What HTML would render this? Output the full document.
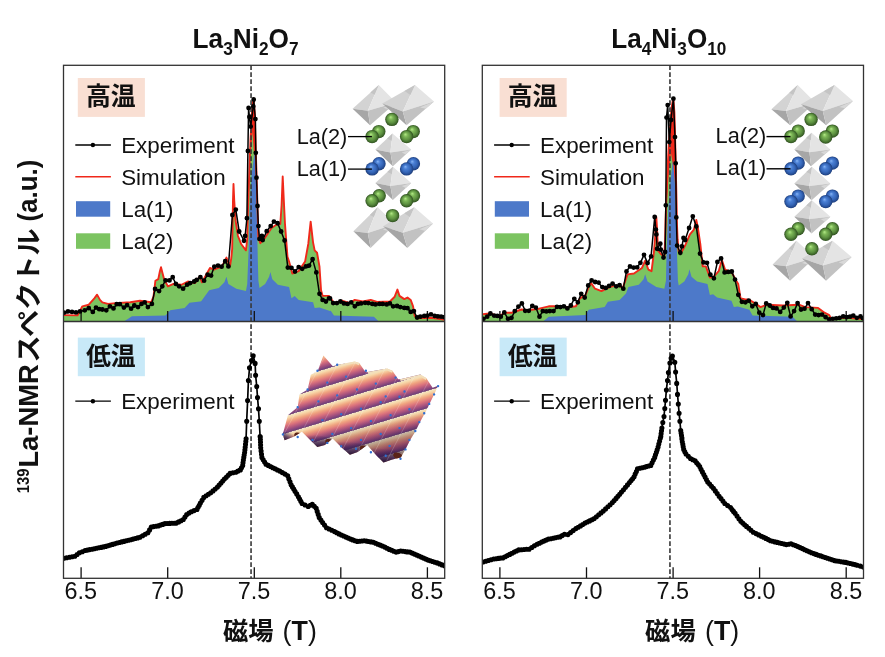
<!DOCTYPE html>
<html lang="ja"><head><meta charset="utf-8"><title>La-NMR</title>
<style>html,body{margin:0;padding:0;background:#fff}body{width:885px;height:657px;overflow:hidden}</style>
</head><body>
<svg width="885" height="657" viewBox="0 0 885 657" style="display:block;font-family:'Liberation Sans', 'Noto Sans CJK JP', sans-serif">
<defs>
<clipPath id="c63"><rect x="63.5" y="65.3" width="381.2" height="256.2"/></clipPath>
<clipPath id="c482"><rect x="482.3" y="65.3" width="381.2" height="256.2"/></clipPath>
<clipPath id="cb63"><rect x="63.5" y="321.5" width="381.2" height="256.79999999999995"/></clipPath>
<clipPath id="cb482"><rect x="482.3" y="321.5" width="381.2" height="256.79999999999995"/></clipPath>
<radialGradient id="gs" cx="0.5" cy="0.5" r="0.5" fx="0.4" fy="0.32"><stop offset="0" stop-color="#b4ea88"/><stop offset="0.3" stop-color="#7cb656"/><stop offset="0.65" stop-color="#5c9040"/><stop offset="0.9" stop-color="#3c6428"/><stop offset="1" stop-color="#2c4a1e"/></radialGradient>
<radialGradient id="bs" cx="0.5" cy="0.5" r="0.5" fx="0.4" fy="0.32"><stop offset="0" stop-color="#86b4f4"/><stop offset="0.3" stop-color="#4a7fd4"/><stop offset="0.65" stop-color="#3566b8"/><stop offset="0.9" stop-color="#244a90"/><stop offset="1" stop-color="#1a3870"/></radialGradient>
</defs>
<rect width="885" height="657" fill="#fff"/>
<g id="crystalL">
<polygon points="352.6,108.8 378.8,84.9 367.8,110.8" fill="#d3d3d3"/>
<polygon points="378.8,84.9 396.0,102.4 367.8,110.8" fill="#e4e4e4"/>
<polygon points="352.6,108.8 367.8,110.8 370.1,125.2" fill="#a6a6a6"/>
<polygon points="367.8,110.8 396.0,102.4 370.1,125.2" fill="#c2c2c2"/>
<polygon points="370.4,92.5 378.8,84.9 374.6,94.7" fill="#c4c4c4"/>
<polygon points="396.0,102.4 383.3,107.7 388.2,109.2" fill="#d8d8d8"/>
<polygon points="382.3,103.6 415.0,84.9 402.8,111.5" fill="#d3d3d3"/>
<polygon points="415.0,84.9 434.0,101.6 402.8,111.5" fill="#e4e4e4"/>
<polygon points="382.3,103.6 402.8,111.5 406.6,125.2" fill="#a6a6a6"/>
<polygon points="402.8,111.5 434.0,101.6 406.6,125.2" fill="#c2c2c2"/>
<polygon points="404.5,90.9 415.0,84.9 410.4,95.0" fill="#c4c4c4"/>
<polygon points="434.0,101.6 420.0,107.6 425.8,108.7" fill="#d8d8d8"/>
<polygon points="375.4,149.6 392.5,133.6 390.4,152.4" fill="#d3d3d3"/>
<polygon points="392.5,133.6 411.2,149.6 390.4,152.4" fill="#e4e4e4"/>
<polygon points="375.4,149.6 390.4,152.4 392.9,166.3" fill="#a6a6a6"/>
<polygon points="390.4,152.4 411.2,149.6 392.9,166.3" fill="#c2c2c2"/>
<polygon points="387.0,138.7 392.5,133.6 391.7,140.7" fill="#c4c4c4"/>
<polygon points="411.2,149.6 401.8,152.4 405.7,154.6" fill="#d8d8d8"/>
<polygon points="375.4,183.1 392.9,166.8 390.4,185.9" fill="#d3d3d3"/>
<polygon points="392.9,166.8 411.2,183.1 390.4,185.9" fill="#e4e4e4"/>
<polygon points="375.4,183.1 390.4,185.9 392.9,199.9" fill="#a6a6a6"/>
<polygon points="390.4,185.9 411.2,183.1 392.9,199.9" fill="#c2c2c2"/>
<polygon points="387.3,172.0 392.9,166.8 391.9,174.1" fill="#c4c4c4"/>
<polygon points="411.2,183.1 401.8,185.9 405.7,188.1" fill="#d8d8d8"/>
<polygon points="353.4,231.2 377.7,207.2 367.8,233.1" fill="#d3d3d3"/>
<polygon points="377.7,207.2 395.2,223.9 367.8,233.1" fill="#e4e4e4"/>
<polygon points="353.4,231.2 367.8,233.1 370.6,248.0" fill="#a6a6a6"/>
<polygon points="367.8,233.1 395.2,223.9 370.6,248.0" fill="#c2c2c2"/>
<polygon points="369.9,214.9 377.7,207.2 373.9,217.0" fill="#c4c4c4"/>
<polygon points="395.2,223.9 382.9,229.5 387.8,231.1" fill="#d8d8d8"/>
<polygon points="383.1,226.2 414.3,207.2 402.8,232.8" fill="#d3d3d3"/>
<polygon points="414.3,207.2 433.0,223.6 402.8,232.8" fill="#e4e4e4"/>
<polygon points="383.1,226.2 402.8,232.8 407.4,248.0" fill="#a6a6a6"/>
<polygon points="402.8,232.8 433.0,223.6 407.4,248.0" fill="#c2c2c2"/>
<polygon points="404.3,213.3 414.3,207.2 409.9,216.9" fill="#c4c4c4"/>
<polygon points="433.0,223.6 419.4,229.2 425.3,230.9" fill="#d8d8d8"/>
<circle cx="391.9" cy="119.4" r="6.7" fill="url(#gs)"/>
<circle cx="378.8" cy="131.6" r="6.7" fill="url(#gs)"/>
<circle cx="372.1" cy="136.6" r="6.7" fill="url(#gs)"/>
<circle cx="413.2" cy="131.6" r="6.7" fill="url(#gs)"/>
<circle cx="406.6" cy="136.6" r="6.7" fill="url(#gs)"/>
<circle cx="379.0" cy="163.7" r="6.7" fill="url(#bs)"/>
<circle cx="372.1" cy="168.9" r="6.7" fill="url(#bs)"/>
<circle cx="413.4" cy="163.7" r="6.7" fill="url(#bs)"/>
<circle cx="406.6" cy="168.9" r="6.7" fill="url(#bs)"/>
<circle cx="379.2" cy="195.8" r="6.7" fill="url(#gs)"/>
<circle cx="372.1" cy="200.8" r="6.7" fill="url(#gs)"/>
<circle cx="413.5" cy="195.8" r="6.7" fill="url(#gs)"/>
<circle cx="406.6" cy="200.8" r="6.7" fill="url(#gs)"/>
<circle cx="392.6" cy="215.6" r="6.7" fill="url(#gs)"/>
<line x1="348" y1="136.6" x2="371.9" y2="136.6" stroke="#000" stroke-width="1.3"/>
<line x1="348" y1="169.1" x2="371.9" y2="169.1" stroke="#000" stroke-width="1.3"/>
<text x="296.7" y="144.2" font-size="21.7" fill="#111">La(2)</text>
<text x="296.7" y="175.8" font-size="21.7" fill="#111">La(1)</text>
</g>
<g id="crystalR">
<polygon points="771.4,109.3 797.7,85.0 786.0,111.0" fill="#d3d3d3"/>
<polygon points="797.7,85.0 815.3,102.6 786.0,111.0" fill="#e4e4e4"/>
<polygon points="771.4,109.3 786.0,111.0 790.2,125.3" fill="#a6a6a6"/>
<polygon points="786.0,111.0 815.3,102.6 790.2,125.3" fill="#c2c2c2"/>
<polygon points="789.3,92.8 797.7,85.0 793.3,94.9" fill="#c4c4c4"/>
<polygon points="815.3,102.6 802.1,107.9 807.8,109.4" fill="#d8d8d8"/>
<polygon points="801.0,104.3 834.5,85.0 822.8,111.0" fill="#d3d3d3"/>
<polygon points="834.5,85.0 853.0,101.0 822.8,111.0" fill="#e4e4e4"/>
<polygon points="801.0,104.3 822.8,111.0 826.2,125.3" fill="#a6a6a6"/>
<polygon points="822.8,111.0 853.0,101.0 826.2,125.3" fill="#c2c2c2"/>
<polygon points="823.8,91.2 834.5,85.0 830.1,94.9" fill="#c4c4c4"/>
<polygon points="853.0,101.0 839.4,107.0 845.0,108.3" fill="#d8d8d8"/>
<polygon points="794.3,149.5 811.6,132.8 809.4,152.2" fill="#d3d3d3"/>
<polygon points="811.6,132.8 830.4,149.5 809.4,152.2" fill="#e4e4e4"/>
<polygon points="794.3,149.5 809.4,152.2 811.1,166.3" fill="#a6a6a6"/>
<polygon points="809.4,152.2 830.4,149.5 811.1,166.3" fill="#c2c2c2"/>
<polygon points="806.1,138.1 811.6,132.8 810.8,140.2" fill="#c4c4c4"/>
<polygon points="830.4,149.5 820.9,152.2 824.6,154.5" fill="#d8d8d8"/>
<polygon points="794.3,183.5 811.9,166.8 809.4,186.0" fill="#d3d3d3"/>
<polygon points="811.9,166.8 830.4,183.5 809.4,186.0" fill="#e4e4e4"/>
<polygon points="794.3,183.5 809.4,186.0 811.6,200.3" fill="#a6a6a6"/>
<polygon points="809.4,186.0 830.4,183.5 811.6,200.3" fill="#c2c2c2"/>
<polygon points="806.3,172.1 811.9,166.8 810.9,174.1" fill="#c4c4c4"/>
<polygon points="830.4,183.5 820.9,186.1 824.8,188.5" fill="#d8d8d8"/>
<polygon points="794.3,216.7 811.9,200.3 809.4,219.0" fill="#d3d3d3"/>
<polygon points="811.9,200.3 830.4,216.7 809.4,219.0" fill="#e4e4e4"/>
<polygon points="794.3,216.7 809.4,219.0 811.6,233.4" fill="#a6a6a6"/>
<polygon points="809.4,219.0 830.4,216.7 811.6,233.4" fill="#c2c2c2"/>
<polygon points="806.3,205.5 811.9,200.3 810.9,207.4" fill="#c4c4c4"/>
<polygon points="830.4,216.7 820.9,219.2 824.8,221.7" fill="#d8d8d8"/>
<polygon points="772.6,264.4 796.5,240.8 786.1,266.3" fill="#d3d3d3"/>
<polygon points="796.5,240.8 814.9,257.6 786.1,266.3" fill="#e4e4e4"/>
<polygon points="772.6,264.4 786.1,266.3 790.1,280.7" fill="#a6a6a6"/>
<polygon points="786.1,266.3 814.9,257.6 790.1,280.7" fill="#c2c2c2"/>
<polygon points="788.9,248.4 796.5,240.8 792.5,250.5" fill="#c4c4c4"/>
<polygon points="814.9,257.6 801.9,263.0 807.5,264.5" fill="#d8d8d8"/>
<polygon points="802.1,258.4 832.5,240.8 822.9,265.5" fill="#d3d3d3"/>
<polygon points="832.5,240.8 851.7,257.1 822.9,265.5" fill="#e4e4e4"/>
<polygon points="802.1,258.4 822.9,265.5 826.1,280.7" fill="#a6a6a6"/>
<polygon points="822.9,265.5 851.7,257.1 826.1,280.7" fill="#c2c2c2"/>
<polygon points="822.8,246.4 832.5,240.8 828.9,250.2" fill="#c4c4c4"/>
<polygon points="851.7,257.1 838.7,262.4 844.0,264.2" fill="#d8d8d8"/>
<circle cx="811.1" cy="119.4" r="6.7" fill="url(#gs)"/>
<circle cx="798.2" cy="131.1" r="6.7" fill="url(#gs)"/>
<circle cx="791.0" cy="136.6" r="6.7" fill="url(#gs)"/>
<circle cx="832.4" cy="131.1" r="6.7" fill="url(#gs)"/>
<circle cx="825.7" cy="137.0" r="6.7" fill="url(#gs)"/>
<circle cx="798.2" cy="163.1" r="6.7" fill="url(#bs)"/>
<circle cx="791.0" cy="168.8" r="6.7" fill="url(#bs)"/>
<circle cx="832.4" cy="163.1" r="6.7" fill="url(#bs)"/>
<circle cx="825.7" cy="168.8" r="6.7" fill="url(#bs)"/>
<circle cx="798.2" cy="196.1" r="6.7" fill="url(#bs)"/>
<circle cx="791.0" cy="201.6" r="6.7" fill="url(#bs)"/>
<circle cx="832.4" cy="196.1" r="6.7" fill="url(#bs)"/>
<circle cx="825.7" cy="201.6" r="6.7" fill="url(#bs)"/>
<circle cx="798.2" cy="228.7" r="6.7" fill="url(#gs)"/>
<circle cx="791.0" cy="234.3" r="6.7" fill="url(#gs)"/>
<circle cx="832.4" cy="228.7" r="6.7" fill="url(#gs)"/>
<circle cx="825.7" cy="234.3" r="6.7" fill="url(#gs)"/>
<circle cx="811.9" cy="248.8" r="6.7" fill="url(#gs)"/>
<line x1="766.5" y1="136.6" x2="790.5" y2="136.6" stroke="#000" stroke-width="1.4"/>
<line x1="766.5" y1="168.8" x2="790.5" y2="168.8" stroke="#000" stroke-width="1.4"/>
<text x="715.6" y="143.4" font-size="21.7" fill="#111">La(2)</text>
<text x="715.6" y="175.3" font-size="21.7" fill="#111">La(1)</text>
</g>
<defs><linearGradient id="wv" gradientUnits="userSpaceOnUse" x1="310.50" y1="373.70" x2="315.30" y2="389.70" spreadMethod="repeat">
<stop offset="0" stop-color="#f1e4c8"/><stop offset="0.12" stop-color="#f7d9aa"/><stop offset="0.33" stop-color="#f0a480"/><stop offset="0.55" stop-color="#dc737c"/><stop offset="0.77" stop-color="#a8527e"/><stop offset="0.96" stop-color="#70407a"/><stop offset="1" stop-color="#a88490"/></linearGradient>
<linearGradient id="wvd" x1="0" y1="0" x2="0.25" y2="1"><stop offset="0" stop-color="#000" stop-opacity="0"/><stop offset="0.7" stop-color="#1a0a30" stop-opacity="0"/><stop offset="1" stop-color="#1a0a30" stop-opacity="0.45"/></linearGradient>
<clipPath id="wvc"><polygon points="282.7,434.6 287.9,415.3 297.8,407.1 299.4,394.5 307.7,389.4 310.8,374.7 317.6,371.2 323.4,355.4 332.8,366.3 337.4,365.1 354.7,361.4 359.2,363.0 365.1,371.4 367.7,372.1 387.2,368.5 392.4,370.8 398.2,379.2 400.2,379.2 420.3,374.4 426.2,377.9 432.6,387.7 438.1,385.8 434.1,394.4 429.6,403.8 425.8,411.5 420.0,422.1 415.2,431.7 410.4,439.4 405.6,449.0 400.8,457.6 392.2,459.5 383.5,462.4 376.8,455.7 367.2,445.1 357.6,451.9 349.9,454.7 342.2,448.0 332.6,438.4 324.9,445.1 317.3,447.1 311.5,441.3 301.9,431.7 294.2,436.5 284.6,440.3"/></clipPath></defs>
<g id="wave"><g clip-path="url(#wvc)">
<rect x="275" y="345" width="170" height="125" fill="url(#wv)"/>
<rect x="275" y="345" width="170" height="125" fill="url(#wvd)"/>
<polyline points="337.4,365.6 354.7,361.9 359.4,364.0" fill="none" stroke="#f2dfbc" stroke-width="2.6" stroke-linejoin="round"/>
<polyline points="367.7,372.6 387.2,369.0 392.6,371.6" fill="none" stroke="#f2dfbc" stroke-width="2.6" stroke-linejoin="round"/>
<polyline points="400.2,379.7 420.3,374.9 426.4,378.8" fill="none" stroke="#f2dfbc" stroke-width="2.6" stroke-linejoin="round"/>
<linearGradient id="fv0" gradientUnits="userSpaceOnUse" x1="290.4" y1="431.9" x2="284.6" y2="441.5"><stop offset="0" stop-color="#3a1e52" stop-opacity="0"/><stop offset="0.55" stop-color="#3a1e52" stop-opacity="0.75"/><stop offset="1" stop-color="#1c0e2c" stop-opacity="1"/></linearGradient>
<polygon points="279.0,432.0 281.6,444.5 287.6,444.5 301.9,431.7" fill="url(#fv0)"/>
<linearGradient id="fv1" gradientUnits="userSpaceOnUse" x1="317.2" y1="435.0" x2="317.3" y2="448.5"><stop offset="0" stop-color="#3a1e52" stop-opacity="0"/><stop offset="0.55" stop-color="#3a1e52" stop-opacity="0.75"/><stop offset="1" stop-color="#1c0e2c" stop-opacity="1"/></linearGradient>
<polygon points="301.9,431.7 314.3,451.5 320.3,451.5 332.6,438.4" fill="url(#fv1)"/>
<linearGradient id="fv2" gradientUnits="userSpaceOnUse" x1="349.9" y1="441.8" x2="349.9" y2="456.0"><stop offset="0" stop-color="#3a1e52" stop-opacity="0"/><stop offset="0.55" stop-color="#3a1e52" stop-opacity="0.75"/><stop offset="1" stop-color="#1c0e2c" stop-opacity="1"/></linearGradient>
<polygon points="332.6,438.4 346.9,459.0 352.9,459.0 367.2,445.1" fill="url(#fv2)"/>
<linearGradient id="fv3" gradientUnits="userSpaceOnUse" x1="384.6" y1="448.6" x2="383.5" y2="464.0"><stop offset="0" stop-color="#3a1e52" stop-opacity="0"/><stop offset="0.55" stop-color="#3a1e52" stop-opacity="0.75"/><stop offset="1" stop-color="#1c0e2c" stop-opacity="1"/></linearGradient>
<polygon points="367.2,445.1 380.5,467.0 386.5,467.0 402.0,452.0" fill="url(#fv3)"/>
<line x1="317.5" y1="339.1" x2="228.5" y2="508.1" stroke="#fff" stroke-opacity="0.28" stroke-width="0.7"/>
<line x1="337.2" y1="333.1" x2="248.2" y2="502.2" stroke="#fff" stroke-opacity="0.28" stroke-width="0.7"/>
<line x1="357.0" y1="327.2" x2="268.0" y2="496.3" stroke="#fff" stroke-opacity="0.28" stroke-width="0.7"/>
<line x1="376.8" y1="321.3" x2="287.8" y2="490.3" stroke="#fff" stroke-opacity="0.28" stroke-width="0.7"/>
<line x1="396.6" y1="315.3" x2="307.6" y2="484.4" stroke="#fff" stroke-opacity="0.28" stroke-width="0.7"/>
<line x1="416.3" y1="309.4" x2="327.3" y2="478.5" stroke="#fff" stroke-opacity="0.28" stroke-width="0.7"/>
<line x1="436.1" y1="303.5" x2="347.1" y2="472.5" stroke="#fff" stroke-opacity="0.28" stroke-width="0.7"/>
<line x1="455.9" y1="297.5" x2="366.9" y2="466.6" stroke="#fff" stroke-opacity="0.28" stroke-width="0.7"/>
<line x1="475.7" y1="291.6" x2="386.7" y2="460.7" stroke="#fff" stroke-opacity="0.28" stroke-width="0.7"/>
<line x1="495.4" y1="285.7" x2="406.4" y2="454.7" stroke="#fff" stroke-opacity="0.28" stroke-width="0.7"/>
<line x1="515.2" y1="279.7" x2="426.2" y2="448.8" stroke="#fff" stroke-opacity="0.28" stroke-width="0.7"/>
<line x1="535.0" y1="273.8" x2="446.0" y2="442.9" stroke="#fff" stroke-opacity="0.28" stroke-width="0.7"/>
<ellipse cx="299.5" cy="436.0" rx="5" ry="3.2" transform="rotate(20 299.5 434.5)" fill="#5a2418"/>
<ellipse cx="330.5" cy="442.5" rx="5" ry="3.2" transform="rotate(20 330.5 441)" fill="#5a2418"/>
<ellipse cx="365" cy="449.0" rx="5" ry="3.2" transform="rotate(20 365 447.5)" fill="#5a2418"/>
<ellipse cx="398.5" cy="456.0" rx="5" ry="3.2" transform="rotate(20 398.5 454.5)" fill="#5a2418"/>
</g>
<path d="M317.5 370.7h0M337.2 364.8h0M365.9 370.7h0M307.6 389.5h0M327.3 382.6h0M346.1 376.6h0M375.8 383.6h0M395.6 377.6h0M438.1 386.1h0M297.7 407.3h0M318.4 401.4h0M337.2 395.4h0M357.0 389.5h0M385.7 396.4h0M404.5 391.5h0M434.1 394.4h0M282.9 434.4h0M322.4 420.1h0M341.2 414.2h0M361.0 408.7h0M380.7 402.3h0M399.5 396.8h0M429.2 403.9h0M297.7 437.0h0M312.5 439.9h0M332.3 434.0h0M351.1 428.1h0M370.9 421.1h0M390.6 415.2h0M409.4 409.3h0M424.2 413.2h0M327.3 442.9h0M341.2 446.2h0M361.0 439.9h0M380.7 434.0h0M399.5 428.1h0M419.3 422.1h0M356.0 448.8h0M370.9 452.2h0M389.6 445.9h0M409.4 439.9h0M415.3 431.0h0M385.7 455.7h0M400.5 458.7h0M405.5 449.4h0" stroke="#2f6fd0" stroke-width="2.4" stroke-linecap="round" fill="none"/>
</g>
<g clip-path="url(#c63)">
<polygon fill="#7cc461" points="63.5,321.5 63.52,315.09 77.58,315.41 82.37,306.30 88.77,304.71 94.36,298.31 97.08,294.64 99.96,299.91 102.35,302.31 107.95,303.91 115.94,303.11 130.32,302.31 139.91,300.71 151.10,302.31 153.50,296.71 155.41,280.73 158.29,279.13 159.89,271.14 161.01,267.15 162.61,273.54 164.20,279.45 167.88,286.33 173.47,283.93 181.46,284.73 187.86,281.53 194.79,283.13 199.59,276.74 201.99,282.33 209.98,267.95 213.97,269.54 221.96,266.35 226.44,257.56 229.96,266.35 231.23,258.36 232.19,248.77 233.00,200.00 233.50,184.00 234.20,200.00 235.50,220.00 237.95,235.98 241.14,243.97 245.94,250.37 247.22,239.18 258.40,237.58 260.32,243.17 265.12,237.58 271.51,227.99 276.30,224.79 280.30,224.00 281.60,205.00 282.70,176.50 283.80,200.00 285.00,224.00 285.89,235.98 287.49,256.76 289.09,261.55 292.29,273.54 298.68,271.14 305.07,261.55 308.27,243.97 310.66,221.60 313.06,242.37 314.66,250.37 317.06,252.76 319.46,266.35 321.05,290.32 322.65,295.91 329.18,295.91 333.97,303.11 341.96,300.71 349.96,303.11 354.75,299.91 362.74,301.51 370.73,299.91 377.12,301.83 389.91,301.51 394.71,296.71 397.42,289.52 399.50,295.91 404.29,299.11 407.49,297.51 410.69,299.91 413.08,306.30 414.68,315.89 417.08,318.29 431.46,317.81 444.73,319.89 444.7,321.5"/>
<polygon fill="#f0281a" points="247.6,240 247.60,220.00 249.00,180.00 250.50,140.00 252.20,108.00 253.60,98.50 254.60,112.00 255.80,150.00 257.00,190.00 258.00,225.00 258.0,240"/>
<polygon fill="#7cc461" points="247.20,255.00 248.60,200.00 250.20,160.00 252.40,132.00 254.50,160.00 256.50,200.00 258.30,255.00"/>
<polygon fill="#4d79c9" points="123.9,321.5 123.93,321.49 131.92,316.37 165.48,315.57 170.28,310.30 184.66,307.90 189.46,302.79 200.00,301.51 201.19,301.19 209.18,290.32 218.77,287.92 224.36,282.33 226.44,276.74 228.36,283.93 236.35,288.72 245.94,291.12 247.22,283.93 248.60,250.00 249.60,210.00 251.50,175.00 254.60,152.00 256.00,180.00 257.00,220.00 257.80,260.00 258.40,280.73 259.52,287.92 265.12,283.93 269.11,276.74 270.39,271.94 272.31,279.13 277.90,284.73 289.09,287.12 291.49,298.31 294.68,295.91 298.68,299.91 313.06,302.31 314.66,307.90 319.46,307.58 330.00,311.10 330.78,310.78 333.97,315.57 373.93,316.69 378.72,321.49 378.7,321.5"/>
<polyline fill="none" stroke="#f0281a" stroke-width="1.9" stroke-linejoin="round" points="63.52,315.09 77.58,315.41 82.37,306.30 88.77,304.71 94.36,298.31 97.08,294.64 99.96,299.91 102.35,302.31 107.95,303.91 115.94,303.11 130.32,302.31 139.91,300.71 151.10,302.31 153.50,296.71 155.41,280.73 158.29,279.13 159.89,271.14 161.01,267.15 162.61,273.54 164.20,279.45 167.88,286.33 173.47,283.93 181.46,284.73 187.86,281.53 194.79,283.13 199.59,276.74 201.99,282.33 209.98,267.95 213.97,269.54 221.96,266.35 226.44,257.56 229.96,266.35 231.23,258.36 232.19,248.77 233.00,200.00 233.50,184.00 234.20,200.00 235.50,220.00 237.95,235.98 241.14,243.97 245.94,250.37 247.22,239.18 247.60,220.00 249.00,180.00 250.50,140.00 252.20,108.00 253.60,98.50 254.60,112.00 255.80,150.00 257.00,190.00 258.00,225.00 258.40,237.58 260.32,243.17 265.12,237.58 271.51,227.99 276.30,224.79 280.30,224.00 281.60,205.00 282.70,176.50 283.80,200.00 285.00,224.00 285.89,235.98 287.49,256.76 289.09,261.55 292.29,273.54 298.68,271.14 305.07,261.55 308.27,243.97 310.66,221.60 313.06,242.37 314.66,250.37 317.06,252.76 319.46,266.35 321.05,290.32 322.65,295.91 329.18,295.91 333.97,303.11 341.96,300.71 349.96,303.11 354.75,299.91 362.74,301.51 370.73,299.91 377.12,301.83 389.91,301.51 394.71,296.71 397.42,289.52 399.50,295.91 404.29,299.11 407.49,297.51 410.69,299.91 413.08,306.30 414.68,315.89 417.08,318.29 431.46,317.81 444.73,319.89"/>
</g>
<line x1="81.1" y1="321.5" x2="81.1" y2="311.0" stroke="#111" stroke-width="1.3"/>
<line x1="167.7" y1="321.5" x2="167.7" y2="311.0" stroke="#111" stroke-width="1.3"/>
<line x1="254.3" y1="321.5" x2="254.3" y2="311.0" stroke="#111" stroke-width="1.3"/>
<line x1="340.8" y1="321.5" x2="340.8" y2="311.0" stroke="#111" stroke-width="1.3"/>
<line x1="427.4" y1="321.5" x2="427.4" y2="311.0" stroke="#111" stroke-width="1.3"/>
<g clip-path="url(#c482)">
<polygon fill="#7cc461" points="482.3,321.5 482.88,314.29 489.59,313.50 499.18,315.89 505.57,312.70 511.96,312.70 521.55,309.50 527.95,310.30 539.13,308.70 548.72,306.30 559.91,306.30 569.50,307.10 575.89,306.30 579.89,298.31 585.48,295.12 588.68,287.12 591.08,283.13 595.07,288.72 601.46,291.12 607.86,287.92 614.25,285.53 620.00,286.33 622.79,287.92 627.58,274.34 633.97,273.54 641.96,267.95 645.16,260.75 648.36,269.54 651.55,271.14 653.95,251.96 655.23,235.98 655.60,222.00 656.30,217.00 657.00,228.00 657.95,250.37 661.14,254.36 664.34,256.76 665.14,239.18 677.60,239.18 678.72,251.96 681.12,252.76 685.12,245.57 689.91,234.38 693.91,229.59 696.30,220.00 697.90,227.99 700.30,243.97 702.70,266.35 705.89,266.35 709.89,277.54 713.88,276.74 718.68,271.14 721.87,259.96 725.07,269.54 731.46,271.94 736.26,280.73 738.20,283.93 740.59,298.31 744.59,299.11 749.38,299.91 755.78,303.91 760.57,307.10 766.96,304.71 782.95,305.50 798.93,304.71 805.32,307.10 818.11,307.90 824.50,312.70 829.29,315.09 830.89,318.29 846.87,317.81 863.34,319.09 863.5,321.5"/>
<polygon fill="#f0281a" points="665.6,240 665.60,220.00 667.00,180.00 669.00,140.00 671.50,108.00 673.30,98.00 674.40,112.00 675.40,150.00 676.30,190.00 677.00,225.00 677.0,240"/>
<polygon fill="#7cc461" points="665.40,255.00 667.00,200.00 669.00,170.00 671.00,153.00 673.50,170.00 675.80,200.00 677.40,255.00"/>
<polygon fill="#4d79c9" points="543.1,321.5 543.13,321.49 548.72,316.69 585.48,315.09 588.68,309.82 604.66,307.10 607.86,301.83 619.59,299.91 625.98,293.52 628.38,287.12 638.77,284.73 643.56,279.13 645.16,274.34 647.56,281.53 656.35,287.12 664.34,288.72 665.94,280.73 666.60,250.00 668.20,210.00 670.50,180.00 673.00,160.00 675.00,185.00 676.20,220.00 677.20,260.00 677.92,280.73 678.72,285.53 684.32,281.53 688.31,274.34 689.43,269.22 691.51,276.74 697.10,281.53 707.49,283.93 709.89,295.12 713.08,294.32 717.08,297.51 731.46,300.71 733.86,307.10 737.86,306.62 749.38,309.82 752.58,315.57 792.54,316.69 797.33,321.49 797.3,321.5"/>
<polyline fill="none" stroke="#f0281a" stroke-width="1.9" stroke-linejoin="round" points="482.88,314.29 489.59,313.50 499.18,315.89 505.57,312.70 511.96,312.70 521.55,309.50 527.95,310.30 539.13,308.70 548.72,306.30 559.91,306.30 569.50,307.10 575.89,306.30 579.89,298.31 585.48,295.12 588.68,287.12 591.08,283.13 595.07,288.72 601.46,291.12 607.86,287.92 614.25,285.53 620.00,286.33 622.79,287.92 627.58,274.34 633.97,273.54 641.96,267.95 645.16,260.75 648.36,269.54 651.55,271.14 653.95,251.96 655.23,235.98 655.60,222.00 656.30,217.00 657.00,228.00 657.95,250.37 661.14,254.36 664.34,256.76 665.14,239.18 665.60,220.00 667.00,180.00 669.00,140.00 671.50,108.00 673.30,98.00 674.40,112.00 675.40,150.00 676.30,190.00 677.00,225.00 677.60,239.18 678.72,251.96 681.12,252.76 685.12,245.57 689.91,234.38 693.91,229.59 696.30,220.00 697.90,227.99 700.30,243.97 702.70,266.35 705.89,266.35 709.89,277.54 713.88,276.74 718.68,271.14 721.87,259.96 725.07,269.54 731.46,271.94 736.26,280.73 738.20,283.93 740.59,298.31 744.59,299.11 749.38,299.91 755.78,303.91 760.57,307.10 766.96,304.71 782.95,305.50 798.93,304.71 805.32,307.10 818.11,307.90 824.50,312.70 829.29,315.09 830.89,318.29 846.87,317.81 863.34,319.09"/>
</g>
<line x1="499.9" y1="321.5" x2="499.9" y2="311.0" stroke="#111" stroke-width="1.3"/>
<line x1="586.5" y1="321.5" x2="586.5" y2="311.0" stroke="#111" stroke-width="1.3"/>
<line x1="673.1" y1="321.5" x2="673.1" y2="311.0" stroke="#111" stroke-width="1.3"/>
<line x1="759.6" y1="321.5" x2="759.6" y2="311.0" stroke="#111" stroke-width="1.3"/>
<line x1="846.2" y1="321.5" x2="846.2" y2="311.0" stroke="#111" stroke-width="1.3"/>
<line x1="81.1" y1="578.3" x2="81.1" y2="567.3" stroke="#111" stroke-width="1.3"/>
<line x1="167.7" y1="578.3" x2="167.7" y2="567.3" stroke="#111" stroke-width="1.3"/>
<line x1="254.3" y1="578.3" x2="254.3" y2="567.3" stroke="#111" stroke-width="1.3"/>
<line x1="340.8" y1="578.3" x2="340.8" y2="567.3" stroke="#111" stroke-width="1.3"/>
<line x1="427.4" y1="578.3" x2="427.4" y2="567.3" stroke="#111" stroke-width="1.3"/>
<line x1="499.9" y1="578.3" x2="499.9" y2="567.3" stroke="#111" stroke-width="1.3"/>
<line x1="586.5" y1="578.3" x2="586.5" y2="567.3" stroke="#111" stroke-width="1.3"/>
<line x1="673.1" y1="578.3" x2="673.1" y2="567.3" stroke="#111" stroke-width="1.3"/>
<line x1="759.6" y1="578.3" x2="759.6" y2="567.3" stroke="#111" stroke-width="1.3"/>
<line x1="846.2" y1="578.3" x2="846.2" y2="567.3" stroke="#111" stroke-width="1.3"/>
<line x1="251.05" y1="65.3" x2="251.05" y2="578.3" stroke="#383838" stroke-width="1.6" stroke-dasharray="4.7 2.3"/>
<line x1="669.95" y1="65.3" x2="669.95" y2="578.3" stroke="#383838" stroke-width="1.6" stroke-dasharray="4.7 2.3"/>
<g clip-path="url(#c63)">
<polyline fill="none" stroke="#000" stroke-width="1.5" stroke-linejoin="round" points="64.00,312.70 67.99,311.42 71.99,311.90 75.98,312.38 79.98,311.42 84.77,310.30 88.77,308.22 92.76,311.90 95.96,307.58 99.16,309.18 102.35,309.50 106.35,310.30 109.86,306.30 113.54,308.38 116.74,304.23 119.93,304.23 123.93,307.58 127.12,305.18 131.12,308.70 134.32,305.50 137.99,307.10 141.51,303.91 144.71,302.31 147.90,307.10 151.90,303.91 155.09,289.04 159.09,291.12 162.29,286.33 165.48,280.41 169.48,280.41 172.67,277.22 175.87,283.93 179.07,286.33 183.06,288.72 187.06,284.73 190.25,283.13 194.25,281.53 196.71,279.93 200.39,277.22 204.06,280.73 207.58,274.66 211.10,275.62 214.29,266.67 217.97,265.55 221.64,266.67 225.16,261.23 228.36,266.35 232.40,215.00 235.80,209.60 239.22,231.51 244.02,240.78 245.14,235.98 246.90,218.20 247.90,151.00 248.60,108.00 249.40,117.00 250.70,126.60 253.30,106.30 253.70,99.50 255.40,119.10 255.80,152.80 256.50,177.70 257.50,206.00 258.40,226.07 259.52,238.86 261.92,235.98 262.72,239.98 266.71,231.19 270.71,226.07 273.91,221.60 277.58,223.20 281.10,231.51 284.61,240.46 287.81,267.63 291.49,267.95 295.00,271.46 298.68,267.15 302.19,268.75 305.87,266.35 309.07,265.55 312.58,259.16 316.26,272.42 319.46,293.84 322.65,299.91 325.85,301.51 329.04,298.31 329.98,298.31 333.17,303.11 336.85,303.11 340.37,301.51 343.88,303.43 347.56,303.91 351.23,302.31 354.75,306.30 357.95,303.91 361.14,303.43 365.14,302.79 368.33,303.11 372.33,303.91 375.53,304.39 379.52,303.91 382.72,303.91 386.71,304.39 389.91,303.43 393.11,306.30 397.10,305.98 400.30,307.10 404.29,307.90 407.49,308.22 410.69,311.90 413.88,311.10 417.08,317.49 420.28,316.69 424.27,315.89 427.47,315.57 430.98,314.29 434.66,315.89 437.86,316.37 441.05,316.69 444.25,317.17"/>
<path d="M64.0 312.7h0M68.0 311.4h0M72.0 311.9h0M76.0 312.4h0M80.0 311.4h0M84.8 310.3h0M88.8 308.2h0M92.8 311.9h0M96.0 307.6h0M99.2 309.2h0M102.3 309.5h0M106.3 310.3h0M109.9 306.3h0M113.5 308.4h0M116.7 304.2h0M119.9 304.2h0M123.9 307.6h0M127.1 305.2h0M131.1 308.7h0M134.3 305.5h0M138.0 307.1h0M141.5 303.9h0M144.7 302.3h0M147.9 307.1h0M151.9 303.9h0M155.1 289.0h0M159.1 291.1h0M162.3 286.3h0M165.5 280.4h0M169.5 280.4h0M172.7 277.2h0M175.9 283.9h0M179.1 286.3h0M183.1 288.7h0M187.1 284.7h0M190.2 283.1h0M194.2 281.5h0M196.7 279.9h0M200.4 277.2h0M204.1 280.7h0M207.6 274.7h0M211.1 275.6h0M214.3 266.7h0M218.0 265.6h0M221.6 266.7h0M225.2 261.2h0M228.4 266.4h0M232.4 215.0h0M235.8 209.6h0M239.2 231.5h0M244.0 240.8h0M245.1 236.0h0M246.9 218.2h0M247.9 151.0h0M248.6 108.0h0M249.4 117.0h0M250.7 126.6h0M253.3 106.3h0M253.7 99.5h0M255.4 119.1h0M255.8 152.8h0M256.5 177.7h0M257.5 206.0h0M258.4 226.1h0M259.5 238.9h0M261.9 236.0h0M262.7 240.0h0M266.7 231.2h0M270.7 226.1h0M273.9 221.6h0M277.6 223.2h0M281.1 231.5h0M284.6 240.5h0M287.8 267.6h0M291.5 267.9h0M295.0 271.5h0M298.7 267.1h0M302.2 268.8h0M305.9 266.4h0M309.1 265.6h0M312.6 259.2h0M316.3 272.4h0M319.5 293.8h0M322.6 299.9h0M325.9 301.5h0M329.0 298.3h0M330.0 298.3h0M333.2 303.1h0M336.9 303.1h0M340.4 301.5h0M343.9 303.4h0M347.6 303.9h0M351.2 302.3h0M354.8 306.3h0M357.9 303.9h0M361.1 303.4h0M365.1 302.8h0M368.3 303.1h0M372.3 303.9h0M375.5 304.4h0M379.5 303.9h0M382.7 303.9h0M386.7 304.4h0M389.9 303.4h0M393.1 306.3h0M397.1 306.0h0M400.3 307.1h0M404.3 307.9h0M407.5 308.2h0M410.7 311.9h0M413.9 311.1h0M417.1 317.5h0M420.3 316.7h0M424.3 315.9h0M427.5 315.6h0M431.0 314.3h0M434.7 315.9h0M437.9 316.4h0M441.1 316.7h0M444.2 317.2h0" stroke="#000" stroke-width="4.8" stroke-linecap="round" fill="none"/>
</g>
<g clip-path="url(#c482)">
<polyline fill="none" stroke="#000" stroke-width="1.5" stroke-linejoin="round" points="483.52,318.77 487.19,316.69 490.39,313.50 494.06,315.57 497.26,315.89 500.78,316.69 504.29,312.38 507.97,318.77 511.48,317.81 514.84,311.10 518.36,306.62 521.87,303.43 525.23,310.78 528.75,310.78 532.26,305.82 535.94,307.58 539.45,316.69 542.81,311.10 546.33,311.42 549.84,311.10 553.52,311.10 557.03,306.78 560.39,307.10 563.91,306.30 567.42,308.38 570.78,305.50 574.29,298.79 577.81,302.31 581.17,293.84 584.68,297.51 588.20,285.53 591.56,280.41 595.07,282.01 598.59,282.65 602.26,287.12 605.78,287.92 609.14,285.85 612.65,283.61 616.17,286.33 619.59,285.21 623.27,288.72 626.46,271.46 629.98,266.35 633.65,267.63 637.17,267.31 640.37,262.83 644.04,254.84 647.56,263.15 651.07,256.44 654.70,217.00 655.87,229.59 656.35,234.38 657.15,248.77 660.34,243.65 660.82,249.57 663.54,257.56 665.14,251.96 665.80,205.30 666.50,117.60 667.70,105.10 669.30,142.10 671.00,120.00 673.40,98.70 675.00,137.10 675.70,163.30 676.30,217.40 677.12,245.57 680.32,252.76 681.92,246.37 683.52,237.90 685.12,239.98 689.11,227.99 692.80,216.30 696.30,226.39 699.98,253.56 703.50,262.35 707.01,262.83 710.37,274.66 713.88,278.33 717.40,261.87 721.08,258.36 724.59,272.42 728.27,271.94 731.78,271.46 734.98,279.61 738.34,294.80 741.85,301.83 745.37,302.31 748.72,300.71 752.26,306.30 755.78,303.91 759.29,312.70 762.97,315.09 766.17,303.43 769.68,305.50 773.04,307.90 776.55,308.38 780.23,311.90 783.75,307.58 787.26,302.79 790.62,316.37 794.13,311.10 797.65,303.11 801.01,309.50 804.52,308.70 808.04,303.11 811.71,309.18 815.23,314.61 818.59,315.09 822.10,314.61 825.62,317.17 829.29,319.41 832.81,318.77 836.17,318.29 839.68,317.81 843.20,316.37 846.56,317.17 850.07,316.69 853.27,315.57 856.78,317.81 860.46,316.37 862.86,318.29"/>
<path d="M483.5 318.8h0M487.2 316.7h0M490.4 313.5h0M494.1 315.6h0M497.3 315.9h0M500.8 316.7h0M504.3 312.4h0M508.0 318.8h0M511.5 317.8h0M514.8 311.1h0M518.4 306.6h0M521.9 303.4h0M525.2 310.8h0M528.8 310.8h0M532.3 305.8h0M535.9 307.6h0M539.5 316.7h0M542.8 311.1h0M546.3 311.4h0M549.8 311.1h0M553.5 311.1h0M557.0 306.8h0M560.4 307.1h0M563.9 306.3h0M567.4 308.4h0M570.8 305.5h0M574.3 298.8h0M577.8 302.3h0M581.2 293.8h0M584.7 297.5h0M588.2 285.5h0M591.6 280.4h0M595.1 282.0h0M598.6 282.6h0M602.3 287.1h0M605.8 287.9h0M609.1 285.9h0M612.6 283.6h0M616.2 286.3h0M619.6 285.2h0M623.3 288.7h0M626.5 271.5h0M630.0 266.4h0M633.6 267.6h0M637.2 267.3h0M640.4 262.8h0M644.0 254.8h0M647.6 263.1h0M651.1 256.4h0M654.7 217.0h0M655.9 229.6h0M656.4 234.4h0M657.1 248.8h0M660.3 243.7h0M660.8 249.6h0M663.5 257.6h0M665.1 252.0h0M665.8 205.3h0M666.5 117.6h0M667.7 105.1h0M669.3 142.1h0M671.0 120.0h0M673.4 98.7h0M675.0 137.1h0M675.7 163.3h0M676.3 217.4h0M677.1 245.6h0M680.3 252.8h0M681.9 246.4h0M683.5 237.9h0M685.1 240.0h0M689.1 228.0h0M692.8 216.3h0M696.3 226.4h0M700.0 253.6h0M703.5 262.4h0M707.0 262.8h0M710.4 274.7h0M713.9 278.3h0M717.4 261.9h0M721.1 258.4h0M724.6 272.4h0M728.3 271.9h0M731.8 271.5h0M735.0 279.6h0M738.3 294.8h0M741.9 301.8h0M745.4 302.3h0M748.7 300.7h0M752.3 306.3h0M755.8 303.9h0M759.3 312.7h0M763.0 315.1h0M766.2 303.4h0M769.7 305.5h0M773.0 307.9h0M776.5 308.4h0M780.2 311.9h0M783.8 307.6h0M787.3 302.8h0M790.6 316.4h0M794.1 311.1h0M797.6 303.1h0M801.0 309.5h0M804.5 308.7h0M808.0 303.1h0M811.7 309.2h0M815.2 314.6h0M818.6 315.1h0M822.1 314.6h0M825.6 317.2h0M829.3 319.4h0M832.8 318.8h0M836.2 318.3h0M839.7 317.8h0M843.2 316.4h0M846.6 317.2h0M850.1 316.7h0M853.3 315.6h0M856.8 317.8h0M860.5 316.4h0M862.9 318.3h0" stroke="#000" stroke-width="4.8" stroke-linecap="round" fill="none"/>
</g>
<g clip-path="url(#cb63)">
<polyline fill="none" stroke="#000" stroke-width="1.7" stroke-linejoin="round" points="63.88,558.31 66.62,557.80 69.36,557.28 72.10,556.77 74.84,556.26 77.12,554.55 79.41,552.83 82.26,551.69 85.11,550.55 87.39,550.09 89.68,549.63 91.97,549.18 94.25,548.72 96.53,548.26 98.81,547.81 101.10,547.35 103.38,546.90 105.66,546.44 107.94,545.75 110.23,545.07 112.51,544.38 114.80,543.70 117.08,543.01 119.36,542.46 121.64,541.91 123.93,541.37 126.21,540.82 128.49,540.27 130.77,539.68 133.06,539.09 135.34,538.49 137.63,537.90 139.91,537.31 142.57,535.79 145.24,534.26 147.90,532.74 149.61,529.88 151.32,527.03 153.60,526.65 155.89,526.27 158.17,525.89 160.45,525.13 162.74,524.37 165.02,523.61 167.30,523.52 169.59,523.43 171.87,523.33 174.16,523.24 176.44,523.15 178.72,521.93 181.01,520.72 183.29,519.50 185.00,516.99 186.71,514.47 189.00,513.11 191.28,511.74 194.13,510.60 196.99,509.45 198.13,507.32 199.27,505.19 200.41,503.06 202.12,500.21 203.84,497.35 206.12,495.83 208.40,494.31 210.68,492.79 212.96,490.89 215.25,488.98 217.53,487.08 219.24,485.08 220.95,483.08 222.67,481.09 224.38,479.09 226.28,477.19 228.19,475.28 230.09,473.38 232.94,472.81 235.80,472.24 238.09,471.10 240.37,469.95 241.51,467.67 242.65,465.39 243.03,462.73 243.41,460.06 243.79,457.40 244.17,454.96 244.55,452.53 244.93,450.09 245.22,447.24 245.50,444.38 245.78,441.53 246.07,438.68 246.67,421.30 247.63,400.53 248.43,380.55 249.54,367.76 251.46,360.57 253.22,355.78 255.14,363.45 255.62,375.27 256.74,386.46 257.54,397.65 258.49,408.84 259.29,421.30 260.09,436.49 260.27,436.85 260.38,439.59 260.50,442.33 260.62,445.07 260.73,447.81 261.11,451.01 261.49,454.20 261.87,457.40 263.24,459.68 264.61,461.97 265.98,464.25 268.26,465.39 270.55,466.53 272.83,467.67 275.11,468.81 277.40,469.96 279.68,471.10 282.34,472.62 285.01,474.14 287.67,475.66 288.81,478.70 289.96,481.75 291.10,484.79 292.39,486.92 293.69,489.06 294.98,491.19 296.69,493.93 298.40,496.67 299.62,498.95 300.83,501.24 302.05,503.52 305.13,505.00 308.22,506.48 310.27,505.34 312.33,504.20 314.27,506.25 316.21,508.31 317.20,511.35 318.19,514.40 319.18,517.44 320.89,519.96 322.60,522.47 324.54,525.10 326.48,527.72 329.14,529.01 331.81,530.31 334.47,531.60 336.75,532.74 339.04,533.88 341.32,535.02 343.61,536.05 345.89,537.08 348.17,538.10 350.46,539.13 352.74,539.89 355.03,540.66 357.31,541.42 359.59,541.19 361.88,540.96 364.16,540.73 366.44,541.13 368.73,541.53 371.01,541.93 373.29,542.33 375.57,543.24 377.86,544.15 380.14,545.07 382.42,545.98 384.70,547.12 386.99,548.27 389.27,549.41 391.55,550.32 393.84,551.24 396.12,552.15 398.40,551.58 400.68,551.00 402.97,551.29 405.25,551.58 407.53,551.86 409.82,552.15 412.10,553.12 414.38,554.09 416.67,555.06 418.95,556.03 421.23,557.06 423.51,558.09 425.80,559.11 428.08,560.14 430.36,560.83 432.64,561.51 434.93,562.19 437.21,562.88 439.65,563.87 442.08,564.85 444.52,565.84"/>
<path d="M63.9 558.3h0M66.6 557.8h0M69.4 557.3h0M72.1 556.8h0M74.8 556.3h0M77.1 554.5h0M79.4 552.8h0M82.3 551.7h0M85.1 550.5h0M87.4 550.1h0M89.7 549.6h0M92.0 549.2h0M94.2 548.7h0M96.5 548.3h0M98.8 547.8h0M101.1 547.4h0M103.4 546.9h0M105.7 546.4h0M107.9 545.8h0M110.2 545.1h0M112.5 544.4h0M114.8 543.7h0M117.1 543.0h0M119.4 542.5h0M121.6 541.9h0M123.9 541.4h0M126.2 540.8h0M128.5 540.3h0M130.8 539.7h0M133.1 539.1h0M135.3 538.5h0M137.6 537.9h0M139.9 537.3h0M142.6 535.8h0M145.2 534.3h0M147.9 532.7h0M149.6 529.9h0M151.3 527.0h0M153.6 526.6h0M155.9 526.3h0M158.2 525.9h0M160.5 525.1h0M162.7 524.4h0M165.0 523.6h0M167.3 523.5h0M169.6 523.4h0M171.9 523.3h0M174.2 523.2h0M176.4 523.1h0M178.7 521.9h0M181.0 520.7h0M183.3 519.5h0M185.0 517.0h0M186.7 514.5h0M189.0 513.1h0M191.3 511.7h0M194.1 510.6h0M197.0 509.4h0M198.1 507.3h0M199.3 505.2h0M200.4 503.1h0M202.1 500.2h0M203.8 497.4h0M206.1 495.8h0M208.4 494.3h0M210.7 492.8h0M213.0 490.9h0M215.2 489.0h0M217.5 487.1h0M219.2 485.1h0M221.0 483.1h0M222.7 481.1h0M224.4 479.1h0M226.3 477.2h0M228.2 475.3h0M230.1 473.4h0M232.9 472.8h0M235.8 472.2h0M238.1 471.1h0M240.4 469.9h0M241.5 467.7h0M242.7 465.4h0M243.0 462.7h0M243.4 460.1h0M243.8 457.4h0M244.2 455.0h0M244.6 452.5h0M244.9 450.1h0M245.2 447.2h0M245.5 444.4h0M245.8 441.5h0M246.1 438.7h0M246.7 421.3h0M247.6 400.5h0M248.4 380.6h0M249.5 367.8h0M251.5 360.6h0M253.2 355.8h0M255.1 363.4h0M255.6 375.3h0M256.7 386.5h0M257.5 397.6h0M258.5 408.8h0M259.3 421.3h0M260.1 436.5h0M260.3 436.9h0M260.4 439.6h0M260.5 442.3h0M260.6 445.1h0M260.7 447.8h0M261.1 451.0h0M261.5 454.2h0M261.9 457.4h0M263.2 459.7h0M264.6 462.0h0M266.0 464.2h0M268.3 465.4h0M270.5 466.5h0M272.8 467.7h0M275.1 468.8h0M277.4 470.0h0M279.7 471.1h0M282.3 472.6h0M285.0 474.1h0M287.7 475.7h0M288.8 478.7h0M290.0 481.7h0M291.1 484.8h0M292.4 486.9h0M293.7 489.1h0M295.0 491.2h0M296.7 493.9h0M298.4 496.7h0M299.6 499.0h0M300.8 501.2h0M302.1 503.5h0M305.1 505.0h0M308.2 506.5h0M310.3 505.3h0M312.3 504.2h0M314.3 506.3h0M316.2 508.3h0M317.2 511.4h0M318.2 514.4h0M319.2 517.4h0M320.9 520.0h0M322.6 522.5h0M324.5 525.1h0M326.5 527.7h0M329.1 529.0h0M331.8 530.3h0M334.5 531.6h0M336.8 532.7h0M339.0 533.9h0M341.3 535.0h0M343.6 536.0h0M345.9 537.1h0M348.2 538.1h0M350.5 539.1h0M352.7 539.9h0M355.0 540.7h0M357.3 541.4h0M359.6 541.2h0M361.9 541.0h0M364.2 540.7h0M366.4 541.1h0M368.7 541.5h0M371.0 541.9h0M373.3 542.3h0M375.6 543.2h0M377.9 544.2h0M380.1 545.1h0M382.4 546.0h0M384.7 547.1h0M387.0 548.3h0M389.3 549.4h0M391.6 550.3h0M393.8 551.2h0M396.1 552.1h0M398.4 551.6h0M400.7 551.0h0M403.0 551.3h0M405.2 551.6h0M407.5 551.9h0M409.8 552.1h0M412.1 553.1h0M414.4 554.1h0M416.7 555.1h0M418.9 556.0h0M421.2 557.1h0M423.5 558.1h0M425.8 559.1h0M428.1 560.1h0M430.4 560.8h0M432.6 561.5h0M434.9 562.2h0M437.2 562.9h0M439.6 563.9h0M442.1 564.9h0M444.5 565.8h0" stroke="#000" stroke-width="5.1" stroke-linecap="round" fill="none"/>
</g>
<g clip-path="url(#cb482)">
<polyline fill="none" stroke="#000" stroke-width="1.7" stroke-linejoin="round" points="482.97,561.96 485.65,561.22 488.34,560.48 491.02,559.74 493.70,559.00 495.98,558.71 498.26,558.42 500.55,558.14 502.83,557.85 505.11,556.71 507.40,555.57 509.68,554.43 511.96,553.29 514.25,552.14 516.53,551.00 518.81,549.86 521.38,549.69 523.95,549.52 526.52,549.35 529.09,549.18 531.75,547.51 534.42,545.83 537.08,544.16 539.36,543.15 541.64,542.15 543.93,541.14 546.21,540.14 548.49,539.13 550.77,538.67 553.06,538.22 555.34,537.76 557.63,537.31 559.91,536.85 562.19,535.60 564.47,534.34 567.90,534.57 570.56,532.59 573.23,530.61 575.89,528.63 578.17,527.26 580.45,525.89 582.74,524.52 585.02,523.15 587.30,522.01 589.59,520.87 591.88,519.72 594.16,518.58 596.44,516.70 598.72,514.82 601.01,512.93 603.29,511.05 605.57,508.94 607.86,506.83 610.14,504.71 612.42,502.60 614.25,500.50 616.07,498.40 617.90,496.30 619.72,494.20 621.55,492.10 623.55,489.70 625.54,487.31 627.54,484.91 629.54,482.51 631.06,480.61 632.59,478.70 634.11,476.80 635.25,474.14 636.39,471.47 637.53,468.81 639.81,468.28 642.10,467.74 644.38,467.21 646.51,466.60 648.65,466.00 650.78,465.39 652.07,462.73 653.37,460.06 654.66,457.40 655.51,454.83 656.37,452.26 657.23,449.69 658.08,447.12 658.84,444.08 659.61,441.03 660.37,437.99 660.75,436.49 661.12,433.67 661.50,430.84 661.87,428.02 662.83,422.58 663.95,416.51 664.75,408.52 665.55,400.21 666.35,390.14 667.47,380.55 668.43,372.56 669.86,362.97 671.14,358.17 672.42,356.10 674.82,362.17 675.62,372.08 676.74,383.43 677.54,394.45 678.33,404.04 679.13,413.31 679.93,421.30 680.73,430.57 681.10,433.07 681.48,435.58 681.85,438.08 681.87,439.13 682.33,441.70 682.79,444.27 683.24,446.84 683.70,449.41 684.84,451.69 685.98,453.97 688.26,456.25 690.55,458.54 692.83,459.68 695.11,460.82 696.63,462.72 698.16,464.63 699.68,466.53 701.05,469.19 702.42,471.86 703.79,474.52 705.08,477.03 706.38,479.54 707.67,482.05 709.57,484.11 711.48,486.16 713.38,488.22 715.28,490.88 717.19,493.55 719.09,496.21 720.99,498.65 722.89,501.08 724.79,503.52 727.64,505.57 730.50,507.63 732.02,509.53 733.55,511.43 735.07,513.33 736.97,515.99 738.88,518.66 740.78,521.32 742.68,523.00 744.58,524.67 746.48,526.35 748.76,528.33 751.05,530.30 753.33,532.28 755.99,533.57 758.66,534.87 761.32,536.16 763.61,537.30 765.89,538.44 768.18,539.59 770.46,540.73 772.74,541.30 775.03,541.87 777.31,542.44 779.59,543.01 781.87,543.54 784.16,544.08 786.44,544.61 788.72,544.15 791.00,543.70 793.28,544.67 795.57,545.64 797.86,546.61 800.14,547.58 802.42,548.63 804.70,549.68 806.99,550.73 809.27,551.78 811.55,552.83 813.83,553.61 816.12,554.38 818.40,555.16 820.69,555.93 822.97,556.71 825.25,557.49 827.53,558.26 829.82,559.04 832.10,559.81 834.38,560.59 836.66,560.96 838.95,561.32 841.23,561.69 843.52,562.05 845.80,562.42 848.08,562.97 850.36,563.52 852.65,564.06 854.93,564.61 857.21,565.16 860.30,566.08 863.38,566.99"/>
<path d="M483.0 562.0h0M485.7 561.2h0M488.3 560.5h0M491.0 559.7h0M493.7 559.0h0M496.0 558.7h0M498.3 558.4h0M500.5 558.1h0M502.8 557.9h0M505.1 556.7h0M507.4 555.6h0M509.7 554.4h0M512.0 553.3h0M514.2 552.1h0M516.5 551.0h0M518.8 549.9h0M521.4 549.7h0M524.0 549.5h0M526.5 549.3h0M529.1 549.2h0M531.8 547.5h0M534.4 545.8h0M537.1 544.2h0M539.4 543.2h0M541.6 542.1h0M543.9 541.1h0M546.2 540.1h0M548.5 539.1h0M550.8 538.7h0M553.1 538.2h0M555.3 537.8h0M557.6 537.3h0M559.9 536.9h0M562.2 535.6h0M564.5 534.3h0M567.9 534.6h0M570.6 532.6h0M573.2 530.6h0M575.9 528.6h0M578.2 527.3h0M580.5 525.9h0M582.7 524.5h0M585.0 523.1h0M587.3 522.0h0M589.6 520.9h0M591.9 519.7h0M594.2 518.6h0M596.4 516.7h0M598.7 514.8h0M601.0 512.9h0M603.3 511.1h0M605.6 508.9h0M607.9 506.8h0M610.1 504.7h0M612.4 502.6h0M614.2 500.5h0M616.1 498.4h0M617.9 496.3h0M619.7 494.2h0M621.5 492.1h0M623.5 489.7h0M625.5 487.3h0M627.5 484.9h0M629.5 482.5h0M631.1 480.6h0M632.6 478.7h0M634.1 476.8h0M635.2 474.1h0M636.4 471.5h0M637.5 468.8h0M639.8 468.3h0M642.1 467.7h0M644.4 467.2h0M646.5 466.6h0M648.6 466.0h0M650.8 465.4h0M652.1 462.7h0M653.4 460.1h0M654.7 457.4h0M655.5 454.8h0M656.4 452.3h0M657.2 449.7h0M658.1 447.1h0M658.8 444.1h0M659.6 441.0h0M660.4 438.0h0M660.8 436.5h0M661.1 433.7h0M661.5 430.8h0M661.9 428.0h0M662.8 422.6h0M664.0 416.5h0M664.8 408.5h0M665.5 400.2h0M666.4 390.1h0M667.5 380.6h0M668.4 372.6h0M669.9 363.0h0M671.1 358.2h0M672.4 356.1h0M674.8 362.2h0M675.6 372.1h0M676.7 383.4h0M677.5 394.4h0M678.3 404.0h0M679.1 413.3h0M679.9 421.3h0M680.7 430.6h0M681.1 433.1h0M681.5 435.6h0M681.9 438.1h0M681.9 439.1h0M682.3 441.7h0M682.8 444.3h0M683.2 446.8h0M683.7 449.4h0M684.8 451.7h0M686.0 454.0h0M688.3 456.3h0M690.5 458.5h0M692.8 459.7h0M695.1 460.8h0M696.6 462.7h0M698.2 464.6h0M699.7 466.5h0M701.0 469.2h0M702.4 471.9h0M703.8 474.5h0M705.1 477.0h0M706.4 479.5h0M707.7 482.1h0M709.6 484.1h0M711.5 486.2h0M713.4 488.2h0M715.3 490.9h0M717.2 493.5h0M719.1 496.2h0M721.0 498.6h0M722.9 501.1h0M724.8 503.5h0M727.6 505.6h0M730.5 507.6h0M732.0 509.5h0M733.5 511.4h0M735.1 513.3h0M737.0 516.0h0M738.9 518.7h0M740.8 521.3h0M742.7 523.0h0M744.6 524.7h0M746.5 526.4h0M748.8 528.3h0M751.0 530.3h0M753.3 532.3h0M756.0 533.6h0M758.7 534.9h0M761.3 536.2h0M763.6 537.3h0M765.9 538.4h0M768.2 539.6h0M770.5 540.7h0M772.7 541.3h0M775.0 541.9h0M777.3 542.4h0M779.6 543.0h0M781.9 543.5h0M784.2 544.1h0M786.4 544.6h0M788.7 544.2h0M791.0 543.7h0M793.3 544.7h0M795.6 545.6h0M797.9 546.6h0M800.1 547.6h0M802.4 548.6h0M804.7 549.7h0M807.0 550.7h0M809.3 551.8h0M811.5 552.8h0M813.8 553.6h0M816.1 554.4h0M818.4 555.2h0M820.7 555.9h0M823.0 556.7h0M825.3 557.5h0M827.5 558.3h0M829.8 559.0h0M832.1 559.8h0M834.4 560.6h0M836.7 561.0h0M838.9 561.3h0M841.2 561.7h0M843.5 562.1h0M845.8 562.4h0M848.1 563.0h0M850.4 563.5h0M852.6 564.1h0M854.9 564.6h0M857.2 565.2h0M860.3 566.1h0M863.4 567.0h0" stroke="#000" stroke-width="5.1" stroke-linecap="round" fill="none"/>
</g>
<rect x="63.5" y="65.3" width="381.2" height="513.0" fill="none" stroke="#333" stroke-width="1.3"/>
<line x1="63.5" y1="321.5" x2="444.7" y2="321.5" stroke="#333" stroke-width="1.3"/>
<rect x="482.3" y="65.3" width="381.2" height="513.0" fill="none" stroke="#333" stroke-width="1.3"/>
<line x1="482.3" y1="321.5" x2="863.5" y2="321.5" stroke="#333" stroke-width="1.3"/>
<text x="80.8" y="598.6" font-size="23.4" text-anchor="middle" fill="#111">6.5</text>
<text x="167.4" y="598.6" font-size="23.4" text-anchor="middle" fill="#111">7.0</text>
<text x="254.0" y="598.6" font-size="23.4" text-anchor="middle" fill="#111">7.5</text>
<text x="340.5" y="598.6" font-size="23.4" text-anchor="middle" fill="#111">8.0</text>
<text x="427.1" y="598.6" font-size="23.4" text-anchor="middle" fill="#111">8.5</text>
<text x="499.6" y="598.6" font-size="23.4" text-anchor="middle" fill="#111">6.5</text>
<text x="586.2" y="598.6" font-size="23.4" text-anchor="middle" fill="#111">7.0</text>
<text x="672.8" y="598.6" font-size="23.4" text-anchor="middle" fill="#111">7.5</text>
<text x="759.3" y="598.6" font-size="23.4" text-anchor="middle" fill="#111">8.0</text>
<text x="845.9" y="598.6" font-size="23.4" text-anchor="middle" fill="#111">8.5</text>
<rect x="77.8" y="78" width="67.1" height="38.9" fill="#f9dfd3"/>
<text x="110.8" y="105.2" font-size="24.9" font-weight="700" text-anchor="middle" fill="#111">高温</text>
<rect x="77.8" y="337.6" width="67.1" height="38.6" fill="#c8e9f8"/>
<text x="110.8" y="364.8" font-size="24.9" font-weight="700" text-anchor="middle" fill="#111">低温</text>
<line x1="75.3" y1="145.0" x2="110.9" y2="145.0" stroke="#000" stroke-width="1.3"/>
<circle cx="92.9" cy="145.0" r="2.2" fill="#000"/>
<line x1="75.3" y1="401.2" x2="110.9" y2="401.2" stroke="#000" stroke-width="1.3"/>
<circle cx="92.9" cy="401.2" r="2.2" fill="#000"/>
<text x="121.2" y="153.0" font-size="22.4" fill="#111">Experiment</text>
<text x="121.2" y="409.0" font-size="22.4" fill="#111">Experiment</text>
<line x1="75.3" y1="176.8" x2="110.9" y2="176.8" stroke="#f0281a" stroke-width="1.6"/>
<text x="121.2" y="184.8" font-size="22.4" fill="#111">Simulation</text>
<rect x="76.0" y="201.2" width="34.2" height="15.5" fill="#4d79c9"/>
<text x="121.2" y="216.8" font-size="22.4" fill="#111">La(1)</text>
<rect x="76.0" y="233.3" width="34.2" height="15.5" fill="#7cc461"/>
<text x="121.2" y="248.8" font-size="22.4" fill="#111">La(2)</text>
<rect x="499.6" y="78" width="67.1" height="38.9" fill="#f9dfd3"/>
<text x="532.6" y="105.2" font-size="24.9" font-weight="700" text-anchor="middle" fill="#111">高温</text>
<rect x="499.6" y="337.6" width="67.1" height="38.6" fill="#c8e9f8"/>
<text x="532.6" y="364.8" font-size="24.9" font-weight="700" text-anchor="middle" fill="#111">低温</text>
<line x1="494.1" y1="145.0" x2="529.7" y2="145.0" stroke="#000" stroke-width="1.3"/>
<circle cx="511.7" cy="145.0" r="2.2" fill="#000"/>
<line x1="494.1" y1="401.2" x2="529.7" y2="401.2" stroke="#000" stroke-width="1.3"/>
<circle cx="511.7" cy="401.2" r="2.2" fill="#000"/>
<text x="540.0" y="153.0" font-size="22.4" fill="#111">Experiment</text>
<text x="540.0" y="409.0" font-size="22.4" fill="#111">Experiment</text>
<line x1="494.1" y1="176.8" x2="529.7" y2="176.8" stroke="#f0281a" stroke-width="1.6"/>
<text x="540.0" y="184.8" font-size="22.4" fill="#111">Simulation</text>
<rect x="494.8" y="201.2" width="34.2" height="15.5" fill="#4d79c9"/>
<text x="540.0" y="216.8" font-size="22.4" fill="#111">La(1)</text>
<rect x="494.8" y="233.3" width="34.2" height="15.5" fill="#7cc461"/>
<text x="540.0" y="248.8" font-size="22.4" fill="#111">La(2)</text>
<text id="t1" x="192.6" y="47.9" font-size="27" font-weight="700" fill="#111" textLength="106" lengthAdjust="spacingAndGlyphs">La<tspan font-size="17.8" dy="6.8">3</tspan><tspan dy="-6.8">Ni</tspan><tspan font-size="17.8" dy="6.8">2</tspan><tspan dy="-6.8">O</tspan><tspan font-size="17.8" dy="6.8">7</tspan></text>
<text id="t2" x="611.3" y="47.9" font-size="27" font-weight="700" fill="#111" textLength="115" lengthAdjust="spacingAndGlyphs">La<tspan font-size="17.8" dy="6.8">4</tspan><tspan dy="-6.8">Ni</tspan><tspan font-size="17.8" dy="6.8">3</tspan><tspan dy="-6.8">O</tspan><tspan font-size="17.8" dy="6.8">10</tspan></text>
<text id="xl1" x="222.9" y="640.4" font-size="25.3" font-weight="700" fill="#111" textLength="50.6" lengthAdjust="spacingAndGlyphs">磁場</text>
<text x="282.6" y="640.4" font-size="26.8" font-weight="700" fill="#111" textLength="34.2" lengthAdjust="spacingAndGlyphs"><tspan font-weight="400">(</tspan>T<tspan font-weight="400">)</tspan></text>
<text id="xl2" x="645.1" y="640.4" font-size="25.3" font-weight="700" fill="#111" textLength="50.6" lengthAdjust="spacingAndGlyphs">磁場</text>
<text x="705.0" y="640.4" font-size="26.8" font-weight="700" fill="#111" textLength="34.2" lengthAdjust="spacingAndGlyphs"><tspan font-weight="400">(</tspan>T<tspan font-weight="400">)</tspan></text>
<g id="yl" transform="translate(38.3 0)" font-size="26.5" font-weight="700" fill="#111">
<text transform="translate(-9.8 493.2) rotate(-90)" font-size="16" textLength="24.6" lengthAdjust="spacingAndGlyphs">139</text>
<text transform="translate(0 467.6) rotate(-90)" font-size="27.8" textLength="103.4" lengthAdjust="spacingAndGlyphs">La-NMR</text>
<text transform="translate(0 362.4) rotate(-90)" textLength="134" lengthAdjust="spacingAndGlyphs">スペクトル</text>
<text transform="translate(-1 221.6) rotate(-90)" font-size="27.4" textLength="62" lengthAdjust="spacingAndGlyphs">(a.u.)</text>
</g>
</svg>
</body></html>
